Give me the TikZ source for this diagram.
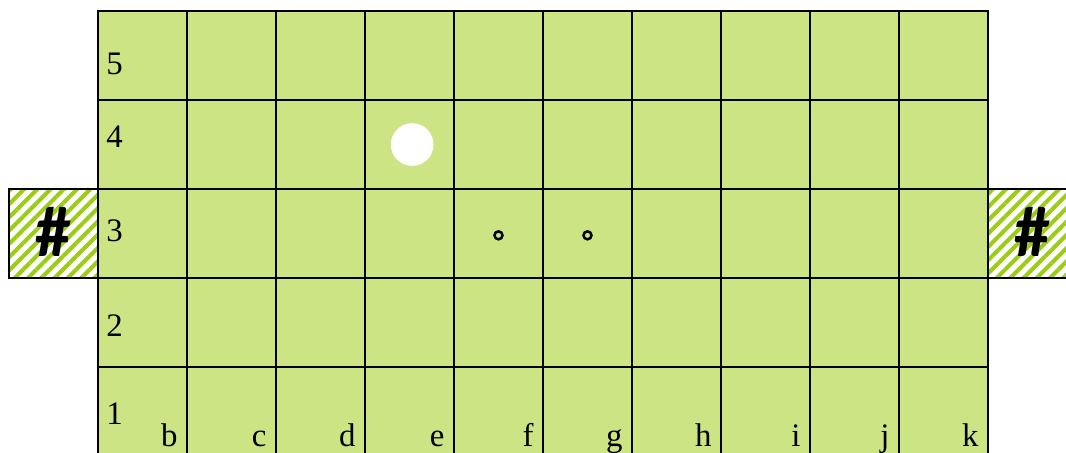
\documentclass[tikz,border=0pt]{standalone}
\usepackage{fontspec}
\setmainfont{Liberation Serif}
\newfontfamily\hashfont{Carlito}
\usetikzlibrary{positioning, patterns.meta}

\definecolor{boardgreen}{RGB}{205,228,132}
\definecolor{hatchgreen}{RGB}{155,205,20}

\begin{document}
\begin{tikzpicture}[
    x=1cm, y=1cm,
    cellbox/.style={draw=black, line width=0.7pt, fill=boardgreen, minimum size=1cm, inner sep=0pt},
    sidebox/.style={draw=black, line width=0.7pt, minimum size=1cm, inner sep=0pt,
        pattern={Lines[angle=45, distance=3pt, line width=1.3pt]}, pattern color=hatchgreen},
    rowlabel/.style={anchor=west, inner sep=0pt, font=\fontsize{10.5}{12}\selectfont},
    collabel/.style={anchor=base east, inner sep=0pt, font=\fontsize{10.5}{12}\selectfont},
    hashmark/.style={font=\hashfont\bfseries\fontsize{23}{26}\selectfont},
    stone/.style={circle, fill=white, minimum size=0.48cm, inner sep=0pt},
    dot/.style={circle, draw=black, line width=0.8pt, minimum size=0.09cm, inner sep=0pt}
]
\useasboundingbox (-1.101,0.045) rectangle (10.876,5.124);

% Board cells
\foreach \i in {1,...,10}
    \foreach \j in {1,...,5} {
        \node[cellbox] (c\i-\j) at (\i-0.5,\j-0.5) {};
    }

% Side boxes
\node[sidebox] (leftbox) at (-0.5,2.5) {};
\node[sidebox] (rightbox) at (10.5,2.5) {};
\node[hashmark] (lefthash) at ([yshift=0.02cm]leftbox) {\#};
\node[hashmark] (righthash) at ([yshift=0.02cm]rightbox) {\#};

% Row numbers
\foreach \j/\dy in {1/-0.02,2/-0.03,3/0.03,4/0.09,5/-0.09} {
    \node[rowlabel] (row\j) at ([xshift=1mm, yshift=\dy cm]c1-\j.west) {\j};
}

% Column letters
\foreach \l [count=\i] in {b,c,d,e,f,g,h,i,j,k} {
    \node[collabel] (col\l) at (\i-0.1,0.11) {\l};
}

% Stones
\node[stone] (bigstone) at ([xshift=0.03cm]c4-4) {};
\node[dot] (dotf) at ([yshift=-0.02cm]c5-3) {};
\node[dot] (dotg) at ([yshift=-0.02cm]c6-3) {};

\end{tikzpicture}
\end{document}
